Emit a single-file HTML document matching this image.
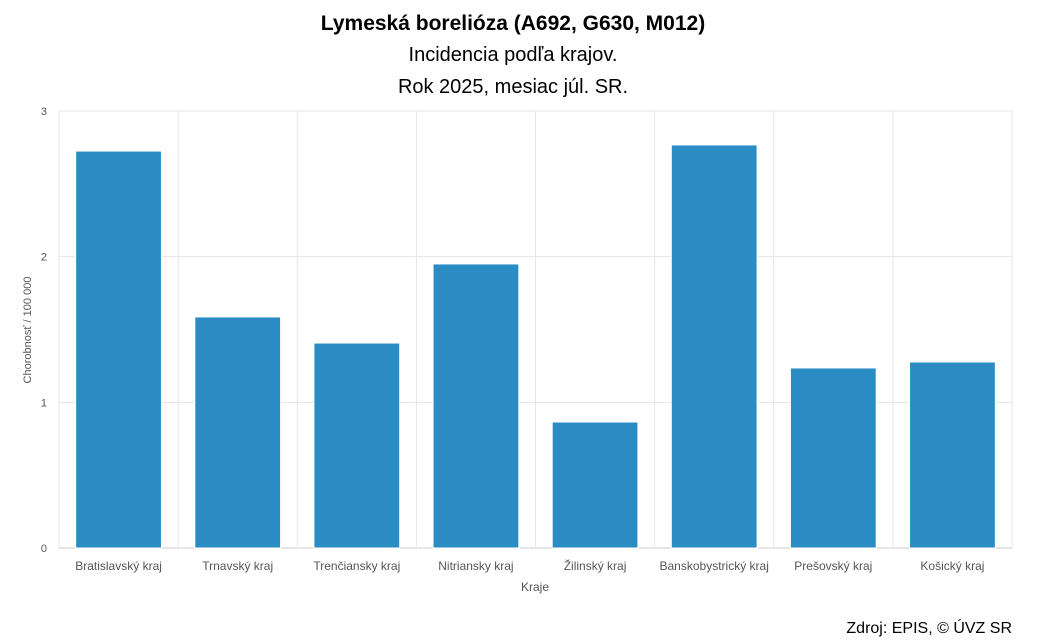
<!DOCTYPE html>
<html><head><meta charset="utf-8">
<style>
body{margin:0;background:#fff;font-family:"Liberation Sans",sans-serif;}
svg{display:block}
</style></head>
<body>
<svg width="1043" height="642" xmlns="http://www.w3.org/2000/svg">
<text x="513" y="30" text-anchor="middle" font-size="21" font-weight="bold" fill="#000">Lymeská borelióza (A692, G630, M012)</text>
<text x="513" y="61" text-anchor="middle" font-size="20" fill="#000">Incidencia podľa krajov.</text>
<text x="513" y="93" text-anchor="middle" font-size="20" fill="#000">Rok 2025, mesiac júl. SR.</text>
<g id="grid"></g>
<g id="bars"></g>
<g id="labels"></g>
<text transform="translate(31,330) rotate(-90)" text-anchor="middle" font-size="11" fill="#555">Chorobnosť / 100 000</text>
<text x="535" y="591" text-anchor="middle" font-size="12" fill="#555">Kraje</text>
<text x="1012" y="633" text-anchor="end" font-size="16" fill="#000">Zdroj: EPIS, © ÚVZ SR</text>
</svg>
<script>
const categories=["Bratislavský kraj","Trnavský kraj","Trenčiansky kraj","Nitriansky kraj","Žilinský kraj","Banskobystrický kraj","Prešovský kraj","Košický kraj"];
const values=[2.725,1.586,1.407,1.95,0.865,2.767,1.236,1.277];
const yTicks=[0,1,2,3];
const NS="http://www.w3.org/2000/svg";
const L=59,R=1012,T=111,B=548,yMax=3;
const y=v=>B-(v/yMax)*(B-T);
const cw=(R-L)/categories.length;
const x=i=>L+i*cw;
function mk(t,a,p){const e=document.createElementNS(NS,t);for(const k in a)e.setAttribute(k,a[k]);p.appendChild(e);return e;}
const g=document.getElementById('grid'),bg=document.getElementById('bars'),lg=document.getElementById('labels');
yTicks.forEach(v=>{
 const ln=mk('line',{x1:L,x2:R,y1:y(v),y2:y(v),stroke:v===0?'#ccc':'#e6e6e6','stroke-width':1},g);
 
 
 const t=mk('text',{x:47,y:y(v)+4,'text-anchor':'end','font-size':11,fill:'#555'},lg);
 t.textContent=v;
 
 
});
for(let i=0;i<=categories.length;i++){
 const ln=mk('line',{x1:x(i),x2:x(i),y1:T,y2:B+(i===0||i===categories.length?0:0),stroke:'#e6e6e6','stroke-width':1},g);
 
 
}
categories.forEach((c,i)=>{
 const bw=cw*0.72,bx=x(i)+(cw-bw)/2;
 const r=mk('rect',{x:bx,y:y(values[i]),width:bw,height:B-y(values[i]),fill:'#2b8cc4',stroke:'#fff','stroke-width':1},bg);
 
 
 const t=mk('text',{x:x(i)+cw/2,y:570,'text-anchor':'middle','font-size':12,fill:'#555'},lg);
 t.textContent=c;
 
 
});
</script>
</body></html>
